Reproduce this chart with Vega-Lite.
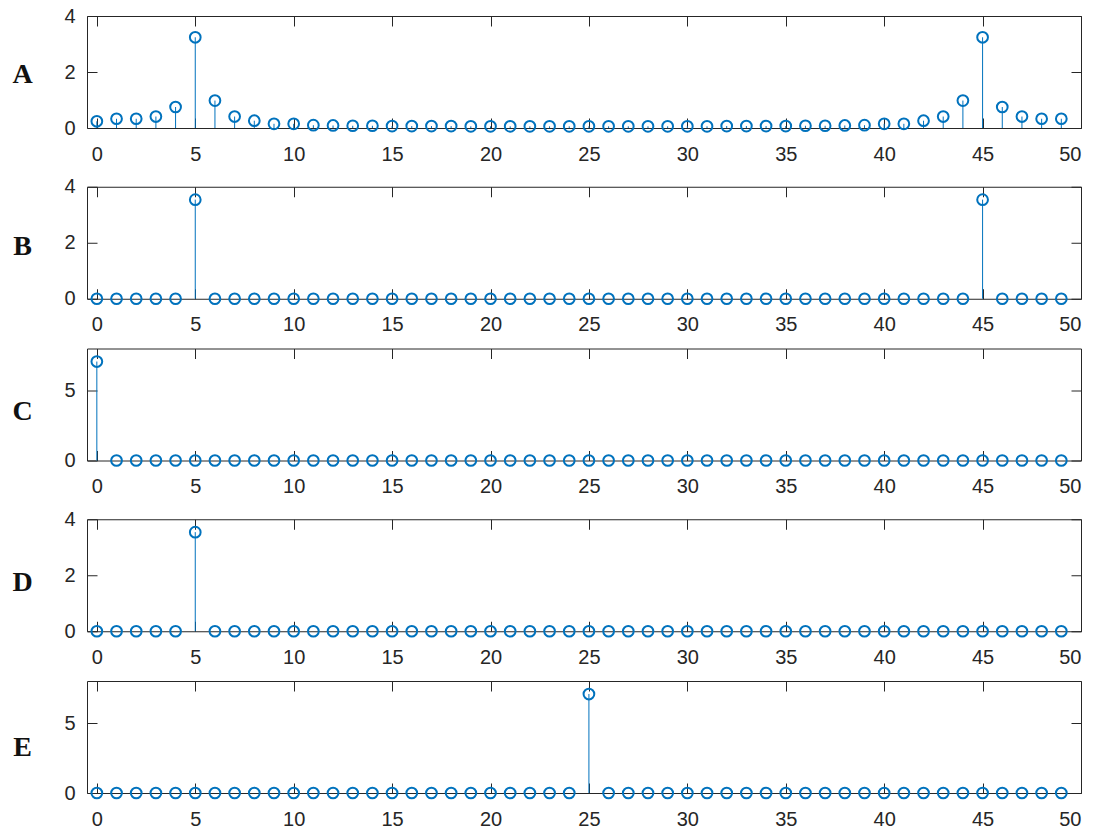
{
  "$schema": "https://vega.github.io/schema/vega-lite/v6.json",
  "background": "white",
  "padding": {"left": 11, "top": 6, "right": 8, "bottom": 0},
  "config": {
    "view": {"stroke": null},
    "axis": {"grid": false, "domainColor": "#262626", "tickColor": "#262626", "labelColor": "#262626", "labelFont": "Liberation Sans", "labelFontSize": 20, "tickSize": -10, "domainWidth": 1, "tickWidth": 1, "titleColor": "#111111"}
  },
  "spacing": 12.75,
  "datasets": {
    "d": [
      {"p":"A","k":0,"v":0.24},{"p":"A","k":1,"v":0.33},{"p":"A","k":2,"v":0.33},{"p":"A","k":3,"v":0.41},{"p":"A","k":4,"v":0.75},{"p":"A","k":5,"v":3.24},{"p":"A","k":6,"v":0.98},{"p":"A","k":7,"v":0.41},{"p":"A","k":8,"v":0.26},{"p":"A","k":9,"v":0.15},
      {"p":"A","k":10,"v":0.15},{"p":"A","k":11,"v":0.1},{"p":"A","k":12,"v":0.09},{"p":"A","k":13,"v":0.08},{"p":"A","k":14,"v":0.08},{"p":"A","k":15,"v":0.07},{"p":"A","k":16,"v":0.07},{"p":"A","k":17,"v":0.07},{"p":"A","k":18,"v":0.07},{"p":"A","k":19,"v":0.06},
      {"p":"A","k":20,"v":0.06},{"p":"A","k":21,"v":0.06},{"p":"A","k":22,"v":0.06},{"p":"A","k":23,"v":0.06},{"p":"A","k":24,"v":0.06},{"p":"A","k":25,"v":0.06},{"p":"A","k":26,"v":0.06},{"p":"A","k":27,"v":0.06},{"p":"A","k":28,"v":0.06},{"p":"A","k":29,"v":0.06},
      {"p":"A","k":30,"v":0.06},{"p":"A","k":31,"v":0.06},{"p":"A","k":32,"v":0.07},{"p":"A","k":33,"v":0.07},{"p":"A","k":34,"v":0.07},{"p":"A","k":35,"v":0.07},{"p":"A","k":36,"v":0.08},{"p":"A","k":37,"v":0.08},{"p":"A","k":38,"v":0.09},{"p":"A","k":39,"v":0.1},
      {"p":"A","k":40,"v":0.15},{"p":"A","k":41,"v":0.15},{"p":"A","k":42,"v":0.26},{"p":"A","k":43,"v":0.41},{"p":"A","k":44,"v":0.98},{"p":"A","k":45,"v":3.24},{"p":"A","k":46,"v":0.75},{"p":"A","k":47,"v":0.41},{"p":"A","k":48,"v":0.33},{"p":"A","k":49,"v":0.33},

      {"p":"B","k":0,"v":0},{"p":"B","k":1,"v":0},{"p":"B","k":2,"v":0},{"p":"B","k":3,"v":0},{"p":"B","k":4,"v":0},{"p":"B","k":5,"v":3.54},{"p":"B","k":6,"v":0},{"p":"B","k":7,"v":0},{"p":"B","k":8,"v":0},{"p":"B","k":9,"v":0},
      {"p":"B","k":10,"v":0},{"p":"B","k":11,"v":0},{"p":"B","k":12,"v":0},{"p":"B","k":13,"v":0},{"p":"B","k":14,"v":0},{"p":"B","k":15,"v":0},{"p":"B","k":16,"v":0},{"p":"B","k":17,"v":0},{"p":"B","k":18,"v":0},{"p":"B","k":19,"v":0},
      {"p":"B","k":20,"v":0},{"p":"B","k":21,"v":0},{"p":"B","k":22,"v":0},{"p":"B","k":23,"v":0},{"p":"B","k":24,"v":0},{"p":"B","k":25,"v":0},{"p":"B","k":26,"v":0},{"p":"B","k":27,"v":0},{"p":"B","k":28,"v":0},{"p":"B","k":29,"v":0},
      {"p":"B","k":30,"v":0},{"p":"B","k":31,"v":0},{"p":"B","k":32,"v":0},{"p":"B","k":33,"v":0},{"p":"B","k":34,"v":0},{"p":"B","k":35,"v":0},{"p":"B","k":36,"v":0},{"p":"B","k":37,"v":0},{"p":"B","k":38,"v":0},{"p":"B","k":39,"v":0},
      {"p":"B","k":40,"v":0},{"p":"B","k":41,"v":0},{"p":"B","k":42,"v":0},{"p":"B","k":43,"v":0},{"p":"B","k":44,"v":0},{"p":"B","k":45,"v":3.54},{"p":"B","k":46,"v":0},{"p":"B","k":47,"v":0},{"p":"B","k":48,"v":0},{"p":"B","k":49,"v":0},

      {"p":"C","k":0,"v":7.07},{"p":"C","k":1,"v":0},{"p":"C","k":2,"v":0},{"p":"C","k":3,"v":0},{"p":"C","k":4,"v":0},{"p":"C","k":5,"v":0},{"p":"C","k":6,"v":0},{"p":"C","k":7,"v":0},{"p":"C","k":8,"v":0},{"p":"C","k":9,"v":0},
      {"p":"C","k":10,"v":0},{"p":"C","k":11,"v":0},{"p":"C","k":12,"v":0},{"p":"C","k":13,"v":0},{"p":"C","k":14,"v":0},{"p":"C","k":15,"v":0},{"p":"C","k":16,"v":0},{"p":"C","k":17,"v":0},{"p":"C","k":18,"v":0},{"p":"C","k":19,"v":0},
      {"p":"C","k":20,"v":0},{"p":"C","k":21,"v":0},{"p":"C","k":22,"v":0},{"p":"C","k":23,"v":0},{"p":"C","k":24,"v":0},{"p":"C","k":25,"v":0},{"p":"C","k":26,"v":0},{"p":"C","k":27,"v":0},{"p":"C","k":28,"v":0},{"p":"C","k":29,"v":0},
      {"p":"C","k":30,"v":0},{"p":"C","k":31,"v":0},{"p":"C","k":32,"v":0},{"p":"C","k":33,"v":0},{"p":"C","k":34,"v":0},{"p":"C","k":35,"v":0},{"p":"C","k":36,"v":0},{"p":"C","k":37,"v":0},{"p":"C","k":38,"v":0},{"p":"C","k":39,"v":0},
      {"p":"C","k":40,"v":0},{"p":"C","k":41,"v":0},{"p":"C","k":42,"v":0},{"p":"C","k":43,"v":0},{"p":"C","k":44,"v":0},{"p":"C","k":45,"v":0},{"p":"C","k":46,"v":0},{"p":"C","k":47,"v":0},{"p":"C","k":48,"v":0},{"p":"C","k":49,"v":0},

      {"p":"D","k":0,"v":0},{"p":"D","k":1,"v":0},{"p":"D","k":2,"v":0},{"p":"D","k":3,"v":0},{"p":"D","k":4,"v":0},{"p":"D","k":5,"v":3.54},{"p":"D","k":6,"v":0},{"p":"D","k":7,"v":0},{"p":"D","k":8,"v":0},{"p":"D","k":9,"v":0},
      {"p":"D","k":10,"v":0},{"p":"D","k":11,"v":0},{"p":"D","k":12,"v":0},{"p":"D","k":13,"v":0},{"p":"D","k":14,"v":0},{"p":"D","k":15,"v":0},{"p":"D","k":16,"v":0},{"p":"D","k":17,"v":0},{"p":"D","k":18,"v":0},{"p":"D","k":19,"v":0},
      {"p":"D","k":20,"v":0},{"p":"D","k":21,"v":0},{"p":"D","k":22,"v":0},{"p":"D","k":23,"v":0},{"p":"D","k":24,"v":0},{"p":"D","k":25,"v":0},{"p":"D","k":26,"v":0},{"p":"D","k":27,"v":0},{"p":"D","k":28,"v":0},{"p":"D","k":29,"v":0},
      {"p":"D","k":30,"v":0},{"p":"D","k":31,"v":0},{"p":"D","k":32,"v":0},{"p":"D","k":33,"v":0},{"p":"D","k":34,"v":0},{"p":"D","k":35,"v":0},{"p":"D","k":36,"v":0},{"p":"D","k":37,"v":0},{"p":"D","k":38,"v":0},{"p":"D","k":39,"v":0},
      {"p":"D","k":40,"v":0},{"p":"D","k":41,"v":0},{"p":"D","k":42,"v":0},{"p":"D","k":43,"v":0},{"p":"D","k":44,"v":0},{"p":"D","k":45,"v":0},{"p":"D","k":46,"v":0},{"p":"D","k":47,"v":0},{"p":"D","k":48,"v":0},{"p":"D","k":49,"v":0},

      {"p":"E","k":0,"v":0},{"p":"E","k":1,"v":0},{"p":"E","k":2,"v":0},{"p":"E","k":3,"v":0},{"p":"E","k":4,"v":0},{"p":"E","k":5,"v":0},{"p":"E","k":6,"v":0},{"p":"E","k":7,"v":0},{"p":"E","k":8,"v":0},{"p":"E","k":9,"v":0},
      {"p":"E","k":10,"v":0},{"p":"E","k":11,"v":0},{"p":"E","k":12,"v":0},{"p":"E","k":13,"v":0},{"p":"E","k":14,"v":0},{"p":"E","k":15,"v":0},{"p":"E","k":16,"v":0},{"p":"E","k":17,"v":0},{"p":"E","k":18,"v":0},{"p":"E","k":19,"v":0},
      {"p":"E","k":20,"v":0},{"p":"E","k":21,"v":0},{"p":"E","k":22,"v":0},{"p":"E","k":23,"v":0},{"p":"E","k":24,"v":0},{"p":"E","k":25,"v":7.07},{"p":"E","k":26,"v":0},{"p":"E","k":27,"v":0},{"p":"E","k":28,"v":0},{"p":"E","k":29,"v":0},
      {"p":"E","k":30,"v":0},{"p":"E","k":31,"v":0},{"p":"E","k":32,"v":0},{"p":"E","k":33,"v":0},{"p":"E","k":34,"v":0},{"p":"E","k":35,"v":0},{"p":"E","k":36,"v":0},{"p":"E","k":37,"v":0},{"p":"E","k":38,"v":0},{"p":"E","k":39,"v":0},
      {"p":"E","k":40,"v":0},{"p":"E","k":41,"v":0},{"p":"E","k":42,"v":0},{"p":"E","k":43,"v":0},{"p":"E","k":44,"v":0},{"p":"E","k":45,"v":0},{"p":"E","k":46,"v":0},{"p":"E","k":47,"v":0},{"p":"E","k":48,"v":0},{"p":"E","k":49,"v":0}
    ]
  },
  "data": {"name": "d"},
  "vconcat": [
    {
      "width": 994, "height": 112,
      "transform": [{"filter": "datum.p == 'A'"}],
      "layer": [
        {
          "mark": {"type": "rule", "color": "#0072BD", "strokeWidth": 1},
          "encoding": {
            "x": {"field": "k", "type": "quantitative", "scale": {"domain": [-0.5, 50], "nice": false, "zero": false}, "axis": {"orient": "bottom", "values": [0,5,10,15,20,25,30,35,40,45,50], "labelPadding": 26, "title": null}},
            "y": {"field": "v", "type": "quantitative", "scale": {"domain": [0, 4], "nice": false}, "axis": {"orient": "left", "values": [0,2,4], "labelPadding": 22, "title": "A", "titleAngle": 0, "titleFont": "Liberation Serif", "titleFontSize": 28, "titleFontWeight": "bold", "titleX": -65, "titleY": 66, "titleAlign": "center", "titleBaseline": "alphabetic"}},
            "y2": {"datum": 0}
          }
        },
        {
          "mark": {"type": "point", "shape": "circle", "filled": false, "color": "#0072BD", "size": 115, "strokeWidth": 2, "opacity": 1},
          "encoding": {
            "x": {"field": "k", "type": "quantitative", "axis": {"orient": "top", "values": [0,5,10,15,20,25,30,35,40,45,50], "labels": false, "title": null}},
            "y": {"field": "v", "type": "quantitative", "axis": {"orient": "right", "values": [0,2,4], "labels": false, "title": null}}
          }
        }
      ]
    },
    {
      "width": 994, "height": 112,
      "transform": [{"filter": "datum.p == 'B'"}],
      "layer": [
        {
          "mark": {"type": "rule", "color": "#0072BD", "strokeWidth": 1},
          "encoding": {
            "x": {"field": "k", "type": "quantitative", "scale": {"domain": [-0.5, 50], "nice": false, "zero": false}, "axis": {"orient": "bottom", "values": [0,5,10,15,20,25,30,35,40,45,50], "labelPadding": 26, "title": null}},
            "y": {"field": "v", "type": "quantitative", "scale": {"domain": [0, 4], "nice": false}, "axis": {"orient": "left", "values": [0,2,4], "labelPadding": 22, "title": "B", "titleAngle": 0, "titleFont": "Liberation Serif", "titleFontSize": 28, "titleFontWeight": "bold", "titleX": -65, "titleY": 68, "titleAlign": "center", "titleBaseline": "alphabetic"}},
            "y2": {"datum": 0}
          }
        },
        {
          "mark": {"type": "point", "shape": "circle", "filled": false, "color": "#0072BD", "size": 115, "strokeWidth": 2, "opacity": 1},
          "encoding": {
            "x": {"field": "k", "type": "quantitative", "axis": {"orient": "top", "values": [0,5,10,15,20,25,30,35,40,45,50], "labels": false, "title": null}},
            "y": {"field": "v", "type": "quantitative", "axis": {"orient": "right", "values": [0,2,4], "labels": false, "title": null}}
          }
        }
      ]
    },
    {
      "width": 994, "height": 112,
      "transform": [{"filter": "datum.p == 'C'"}],
      "layer": [
        {
          "mark": {"type": "rule", "color": "#0072BD", "strokeWidth": 1},
          "encoding": {
            "x": {"field": "k", "type": "quantitative", "scale": {"domain": [-0.5, 50], "nice": false, "zero": false}, "axis": {"orient": "bottom", "values": [0,5,10,15,20,25,30,35,40,45,50], "labelPadding": 26, "title": null}},
            "y": {"field": "v", "type": "quantitative", "scale": {"domain": [0, 8], "nice": false}, "axis": {"orient": "left", "values": [0,5], "labelPadding": 22, "title": "C", "titleAngle": 0, "titleFont": "Liberation Serif", "titleFontSize": 28, "titleFontWeight": "bold", "titleX": -65, "titleY": 71, "titleAlign": "center", "titleBaseline": "alphabetic"}},
            "y2": {"datum": 0}
          }
        },
        {
          "mark": {"type": "point", "shape": "circle", "filled": false, "color": "#0072BD", "size": 115, "strokeWidth": 2, "opacity": 1},
          "encoding": {
            "x": {"field": "k", "type": "quantitative", "axis": {"orient": "top", "values": [0,5,10,15,20,25,30,35,40,45,50], "labels": false, "title": null}},
            "y": {"field": "v", "type": "quantitative", "axis": {"orient": "right", "values": [0,5], "labels": false, "title": null}}
          }
        }
      ]
    },
    {
      "width": 994, "height": 112,
      "transform": [{"filter": "datum.p == 'D'"}],
      "layer": [
        {
          "mark": {"type": "rule", "color": "#0072BD", "strokeWidth": 1},
          "encoding": {
            "x": {"field": "k", "type": "quantitative", "scale": {"domain": [-0.5, 50], "nice": false, "zero": false}, "axis": {"orient": "bottom", "values": [0,5,10,15,20,25,30,35,40,45,50], "labelPadding": 26, "title": null}},
            "y": {"field": "v", "type": "quantitative", "scale": {"domain": [0, 4], "nice": false}, "axis": {"orient": "left", "values": [0,2,4], "labelPadding": 22, "title": "D", "titleAngle": 0, "titleFont": "Liberation Serif", "titleFontSize": 28, "titleFontWeight": "bold", "titleX": -65, "titleY": 71, "titleAlign": "center", "titleBaseline": "alphabetic"}},
            "y2": {"datum": 0}
          }
        },
        {
          "mark": {"type": "point", "shape": "circle", "filled": false, "color": "#0072BD", "size": 115, "strokeWidth": 2, "opacity": 1},
          "encoding": {
            "x": {"field": "k", "type": "quantitative", "axis": {"orient": "top", "values": [0,5,10,15,20,25,30,35,40,45,50], "labels": false, "title": null}},
            "y": {"field": "v", "type": "quantitative", "axis": {"orient": "right", "values": [0,2,4], "labels": false, "title": null}}
          }
        }
      ]
    },
    {
      "width": 994, "height": 112,
      "transform": [{"filter": "datum.p == 'E'"}],
      "layer": [
        {
          "mark": {"type": "rule", "color": "#0072BD", "strokeWidth": 1},
          "encoding": {
            "x": {"field": "k", "type": "quantitative", "scale": {"domain": [-0.5, 50], "nice": false, "zero": false}, "axis": {"orient": "bottom", "values": [0,5,10,15,20,25,30,35,40,45,50], "labelPadding": 26, "title": null}},
            "y": {"field": "v", "type": "quantitative", "scale": {"domain": [0, 8], "nice": false}, "axis": {"orient": "left", "values": [0,5], "labelPadding": 22, "title": "E", "titleAngle": 0, "titleFont": "Liberation Serif", "titleFontSize": 28, "titleFontWeight": "bold", "titleX": -65, "titleY": 74, "titleAlign": "center", "titleBaseline": "alphabetic"}},
            "y2": {"datum": 0}
          }
        },
        {
          "mark": {"type": "point", "shape": "circle", "filled": false, "color": "#0072BD", "size": 115, "strokeWidth": 2, "opacity": 1},
          "encoding": {
            "x": {"field": "k", "type": "quantitative", "axis": {"orient": "top", "values": [0,5,10,15,20,25,30,35,40,45,50], "labels": false, "title": null}},
            "y": {"field": "v", "type": "quantitative", "axis": {"orient": "right", "values": [0,5], "labels": false, "title": null}}
          }
        }
      ]
    }
  ]
}
